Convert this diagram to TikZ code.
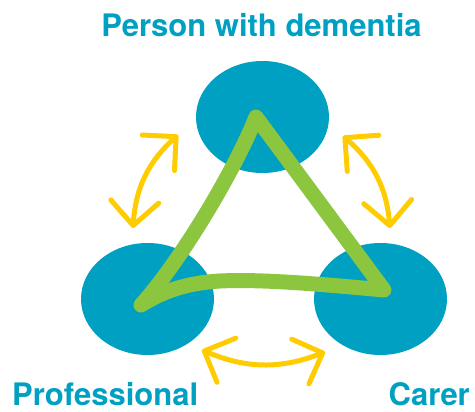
\documentclass[tikz,border=0pt]{standalone}
\usepackage{fontspec}
\setmainfont{TeX Gyre Heros}
\usetikzlibrary{arrows.meta,shapes.geometric}
\definecolor{dteal}{RGB}{0,160,195}
\definecolor{dgreen}{RGB}{140,198,63}
\definecolor{dyellow}{RGB}{255,204,0}
\tikzset{
    blob/.style={
    ellipse,fill=dteal,minimum width=133pt,minimum height=112pt,inner sep=0pt
    },
    role/.style={
    text=dteal,font=\fontsize{31}{36}\selectfont\bfseries,inner sep=0pt
    },
    link/.style={
    draw=dyellow,line width=5pt,line cap=round,
    {Straight Barb[length=24pt,width=48pt,round]}-{Straight Barb[length=24pt,width=48pt,round]}
    },
    bond/.style={
    draw=dgreen,line width=15pt,line cap=round,line join=round
    },
}
\begin{document}
\begin{tikzpicture}[x=1pt,y=-1pt]
   \useasboundingbox (0,0) rectangle (475,412);

   %the three people
   \node[blob] (pwd) at (262.5,117) {};
   \node[blob] (pro) at (147.5,299) {};
   \node[blob] (car) at (380.5,299) {};

   \node[role,anchor=base] (tpwd) at (261.5,36.5) {Person with dementia};
   \node[role,anchor=base west] (tpro) at (12,405) {Professional};
   \node[role,anchor=base east] (tcar) at (470,405) {Carer};

   %green triangle
   \coordinate (tv) at (256,117);
   \coordinate (lv) at (141,305);
   \coordinate (rv) at (384,290);
   \draw[bond] (lv) .. controls (180,262) and (235,170) .. (tv)
      -- (rv) .. controls (320,284) and (260,279) .. (220,281)
      .. controls (185,283) and (162,292) .. (lv) -- cycle;

   %yellow arrows
   \coordinate (ul1) at (133,228);
   \coordinate (ul2) at (178,135);
   \coordinate (ur1) at (343,136);
   \coordinate (ur2) at (390,228);
   \coordinate (bt1) at (202,350);
   \coordinate (bt2) at (325,352);

   \draw[link] (ul1) to[bend left=22] (ul2);
   \draw[link] (ur1) to[bend left=22] (ur2);
   \draw[link] (bt1) to[bend right=22] (bt2);
\end{tikzpicture}
\end{document}
